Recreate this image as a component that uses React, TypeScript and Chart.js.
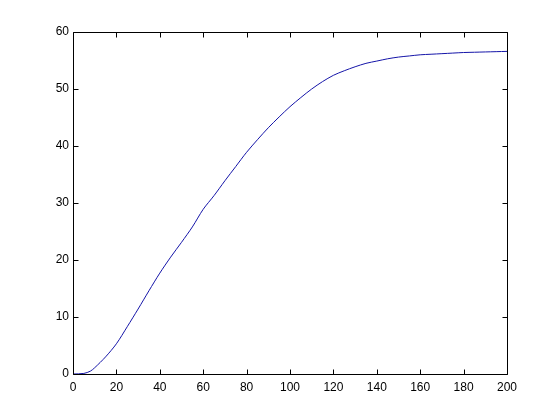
import React, { useEffect, useRef } from "react";
import { Chart, registerables } from "chart.js";

Chart.register(...registerables);

const xValues = [0, 5, 8, 10, 15, 20, 25, 30, 35, 40, 45, 50, 55, 60, 65, 70, 75, 80, 85, 90, 95, 100, 105, 110, 115, 120, 125, 130, 135, 140, 145, 150, 155, 160, 165, 170, 175, 180, 185, 190, 195, 200];
const yValues = [0, 0.1, 0.5, 1.1, 3.0, 5.3, 8.3, 11.4, 14.6, 17.7, 20.5, 23.1, 25.8, 28.9, 31.3, 33.9, 36.4, 38.9, 41.1, 43.2, 45.1, 46.9, 48.5, 50.0, 51.3, 52.4, 53.2, 53.9, 54.5, 54.9, 55.3, 55.6, 55.8, 56.0, 56.1, 56.2, 56.3, 56.4, 56.45, 56.5, 56.55, 56.6];
const xTicks = [0, 20, 40, 60, 80, 100, 120, 140, 160, 180, 200];
const yTicks = [0, 10, 20, 30, 40, 50, 60];

const boxPlugin = {
  id: "matlabBox",
  afterDraw(chart: any) {
    const { ctx, chartArea } = chart;
    const { left, right, top, bottom } = chartArea;
    const xs = chart.scales.x;
    const ys = chart.scales.y;
    const tl = 5;
    ctx.save();
    ctx.strokeStyle = "#000";
    ctx.lineWidth = 1;
    ctx.beginPath();
    const L = Math.round(left) + 0.5;
    const R = Math.round(right) + 0.5;
    const T = Math.round(top) + 0.5;
    const B = Math.round(bottom) + 0.5;
    ctx.rect(L, T, R - L, B - T);
    xTicks.forEach((v) => {
      const px = Math.round(xs.getPixelForValue(v)) + 0.5;
      ctx.moveTo(px, B);
      ctx.lineTo(px, B - tl);
      ctx.moveTo(px, T);
      ctx.lineTo(px, T + tl);
    });
    yTicks.forEach((v) => {
      const py = Math.round(ys.getPixelForValue(v)) + 0.5;
      ctx.moveTo(L, py);
      ctx.lineTo(L + tl, py);
      ctx.moveTo(R, py);
      ctx.lineTo(R - tl, py);
    });
    ctx.stroke();
    ctx.restore();
  },
};

export default function App() {
  const ref = useRef<HTMLCanvasElement | null>(null);
  useEffect(() => {
    document.body.style.margin = "0";
    const canvas = ref.current;
    if (!canvas) return;
    const chart = new Chart(canvas, {
      type: "line",
      data: {
        datasets: [
          {
            data: xValues.map((x, i) => ({ x, y: yValues[i] })),
            borderColor: "#1414a8",
            borderWidth: 1,
            pointRadius: 0,
            tension: 0.3,
            fill: false,
          },
        ],
      },
      options: {
        animation: false,
        responsive: false,
        devicePixelRatio: 1,
        layout: { padding: { left: 0, top: 32, right: 53, bottom: 0 } },
        plugins: { legend: { display: false }, tooltip: { enabled: false } },
        scales: {
          x: {
            type: "linear",
            min: 0,
            max: 200,
            afterFit: (s: any) => {
              s.height = 46;
            },
            afterBuildTicks: (s: any) => {
              s.ticks = xTicks.map((v) => ({ value: v }));
            },
            grid: { display: false, drawTicks: false },
            border: { display: false },
            ticks: {
              color: "#000",
              padding: 6,
              maxRotation: 0,
              autoSkip: false,
              font: { family: "Liberation Sans, Arial, sans-serif", size: 12 },
            },
          },
          y: {
            type: "linear",
            min: 0,
            max: 60,
            afterFit: (s: any) => {
              s.width = 73;
            },
            afterBuildTicks: (s: any) => {
              s.ticks = yTicks.map((v) => ({ value: v }));
            },
            grid: { display: false, drawTicks: false },
            border: { display: false },
            ticks: {
              color: "#000",
              padding: 4,
              autoSkip: false,
              font: { family: "Liberation Sans, Arial, sans-serif", size: 12 },
            },
          },
        },
      },
      plugins: [boxPlugin],
    });
    return () => chart.destroy();
  }, []);
  return (
    <div style={{ position: "absolute", left: 0, top: 0, width: 560, height: 420, background: "#fff" }}>
      <canvas ref={ref} width={560} height={420} style={{ width: 560, height: 420, display: "block" }} />
    </div>
  );
}
